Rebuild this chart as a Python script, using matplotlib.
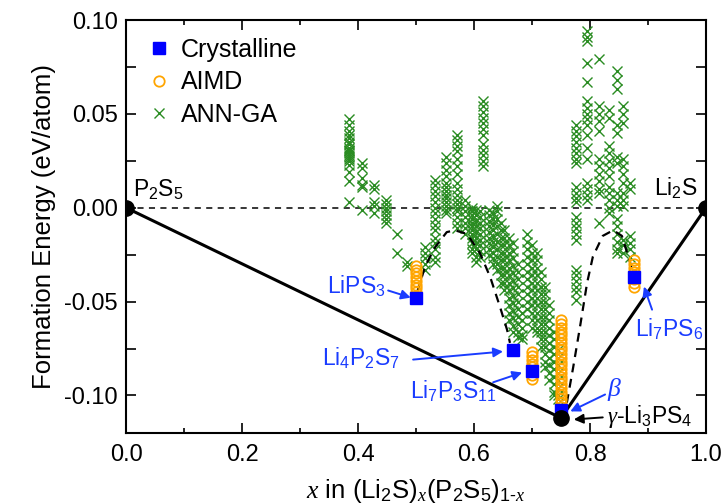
import matplotlib
matplotlib.use("Agg")
import matplotlib.pyplot as plt
from matplotlib.ticker import MultipleLocator, FormatStrFormatter

plt.rcParams['font.family'] = ['Liberation Sans', 'DejaVu Sans']
plt.rcParams['mathtext.fontset'] = 'custom'
plt.rcParams['mathtext.rm'] = 'Liberation Sans'
plt.rcParams['mathtext.it'] = 'Liberation Serif:italic'
plt.rcParams['mathtext.bf'] = 'Liberation Sans:bold'
plt.rcParams['axes.unicode_minus'] = False

# crystalline phases
cryst_x = [0.500, 0.667, 0.700, 0.750, 0.875]
cryst_y = [-0.048, -0.076, -0.087, -0.108, -0.037]

# AIMD structures (composition, energies)
aimd_comp = [0.500, 0.700, 0.750, 0.875]
aimd_energy = [
    [-0.031, -0.033, -0.035, -0.037, -0.039, -0.041, -0.043, -0.045, -0.047],
    [-0.077, -0.079, -0.081, -0.083, -0.085, -0.087, -0.089, -0.091],
    [-0.060, -0.062, -0.064, -0.066, -0.068, -0.070, -0.072, -0.074, -0.076,
     -0.078, -0.080, -0.082, -0.084, -0.086, -0.088, -0.090, -0.092, -0.094,
     -0.096, -0.098, -0.100, -0.102, -0.104, -0.106],
    [-0.028, -0.030, -0.032, -0.034, -0.036, -0.038, -0.040, -0.042],
]

# ANN-GA structures (composition, energies)
ann_comp = [0.385, 0.407, 0.428, 0.448, 0.467, 0.485, 0.516, 0.533, 0.552,
            0.571, 0.585, 0.596, 0.603, 0.615, 0.610, 0.625, 0.632, 0.640,
            0.646, 0.652, 0.660, 0.667, 0.675, 0.682, 0.692, 0.700, 0.708,
            0.715, 0.722, 0.730, 0.738, 0.745, 0.776, 0.795, 0.815, 0.832,
            0.846, 0.857, 0.869]
ann_energy = [
    [0.047, 0.044, 0.041, 0.039, 0.037, 0.035, 0.034, 0.032, 0.031, 0.030,
     0.029, 0.028, 0.027, 0.026, 0.025, 0.023, 0.019, 0.014, 0.003],
    [0.024, 0.021, 0.016, 0.012, 0.011, -0.001],
    [0.012, 0.010, 0.003, 0.001, -0.003],
    [0.004, 0.002, 0.000, -0.002, -0.004, -0.006, -0.008],
    [-0.014, -0.024],
    [-0.029, -0.031],
    [-0.021, -0.024, -0.027, -0.030, -0.033],
    [0.015, 0.012, 0.009, 0.006, 0.003, 0.000, -0.003, -0.006, -0.009,
     -0.012, -0.016, -0.019, -0.022, -0.026, -0.029],
    [0.027, 0.024, 0.020, 0.017, 0.013, 0.011, 0.009, 0.007, 0.005, 0.003,
     0.001, -0.001, -0.003],
    [0.039, 0.036, 0.033, 0.030, 0.026, 0.022, 0.018, 0.013, 0.010, 0.007,
     0.004, 0.002, 0.000, -0.002, -0.005, -0.008, -0.011],
    [0.004, 0.001, -0.002, -0.005, -0.008, -0.011, -0.014],
    [0.000, -0.002, -0.004, -0.006, -0.008, -0.010, -0.012, -0.014, -0.016,
     -0.019, -0.022, -0.024],
    [-0.001, -0.004, -0.007, -0.010, -0.013, -0.016, -0.019, -0.022, -0.026,
     -0.029],
    [0.057, 0.054, 0.051, 0.048, 0.045, 0.042, 0.039, 0.034, 0.031, 0.028,
     0.025, 0.022],
    [-0.002, -0.005, -0.008, -0.011, -0.014, -0.017, -0.020, -0.023, -0.026],
    [-0.001, -0.004, -0.007, -0.010, -0.013, -0.016, -0.019, -0.022, -0.025],
    [-0.003, -0.006, -0.009, -0.012, -0.015, -0.018, -0.021, -0.024, -0.027,
     -0.030],
    [0.001, -0.002, -0.006, -0.010, -0.014, -0.018, -0.022, -0.026, -0.030,
     -0.033],
    [-0.008, -0.012, -0.016, -0.020, -0.024, -0.028, -0.032, -0.036, -0.040],
    [-0.012, -0.016, -0.020, -0.024, -0.028, -0.032, -0.036, -0.040, -0.044],
    [-0.016, -0.020, -0.024, -0.028, -0.032, -0.036, -0.040, -0.044, -0.048,
     -0.052, -0.056, -0.060],
    [-0.019, -0.023, -0.027, -0.031, -0.035, -0.039, -0.043, -0.047, -0.051,
     -0.055, -0.059, -0.063, -0.066],
    [-0.030, -0.034, -0.038, -0.042, -0.046, -0.050, -0.054, -0.058, -0.062,
     -0.066, -0.069],
    [-0.056, -0.060, -0.064, -0.068, -0.070],
    [-0.014, -0.018, -0.022, -0.026, -0.030, -0.034, -0.038, -0.042, -0.046,
     -0.050, -0.054],
    [-0.020, -0.024, -0.028, -0.032, -0.036, -0.040, -0.044, -0.048, -0.052,
     -0.056, -0.060, -0.064],
    [-0.024, -0.028, -0.032, -0.036, -0.040, -0.044, -0.048, -0.052, -0.056,
     -0.060, -0.064, -0.066],
    [-0.034, -0.038, -0.042, -0.046, -0.050, -0.054, -0.058, -0.062, -0.066,
     -0.070, -0.074],
    [-0.042, -0.046, -0.050, -0.054, -0.058, -0.062, -0.066, -0.070, -0.074,
     -0.078, -0.082, -0.085],
    [-0.052, -0.056, -0.060, -0.064, -0.068, -0.072, -0.076, -0.080, -0.084,
     -0.088, -0.092],
    [-0.066, -0.070, -0.074, -0.078, -0.082, -0.086, -0.090, -0.094, -0.098,
     -0.100],
    [-0.076, -0.080, -0.084, -0.088, -0.092, -0.096, -0.100, -0.102],
    [0.044, 0.041, 0.038, 0.035, 0.032, 0.029, 0.026, 0.024, 0.011, 0.008,
     0.005, 0.003, -0.005, -0.008, -0.011, -0.014, -0.017, -0.033, -0.036,
     -0.039, -0.042, -0.045, -0.049],
    [0.094, 0.091, 0.089, 0.077, 0.067, 0.057, 0.053, 0.050, 0.047, 0.044,
     0.039, 0.032, 0.026, 0.013, 0.010, 0.007, 0.004],
    [0.079, 0.054, 0.050, 0.046, 0.041, 0.026, 0.022, 0.018, 0.014, 0.010,
     0.008, -0.008],
    [0.052, 0.048, 0.033, 0.029, 0.025, 0.021, 0.017, 0.011, 0.008, 0.004,
     0.000, -0.003],
    [0.073, 0.068, 0.063, 0.044, 0.040, 0.027, 0.024, 0.008, 0.004, 0.001,
     -0.006, -0.010, -0.014, -0.018, -0.022, -0.024],
    [0.054, 0.050, 0.045, 0.026, 0.022, 0.018, 0.013, 0.008, 0.004, 0.001,
     -0.017, -0.020, -0.024],
    [0.013, 0.010, -0.015, -0.019, -0.022, -0.026],
]

# convex hull and end members
hull_x = [0.0, 0.75, 1.0]
hull_y = [0.0, -0.112, 0.0]

# dashed guide curves
guide1_x = [0.502, 0.516, 0.533, 0.553, 0.567, 0.588, 0.610, 0.628, 0.645, 0.657, 0.662]
guide1_y = [-0.045, -0.031, -0.021, -0.013, -0.012, -0.014, -0.024, -0.037, -0.053, -0.065, -0.072]
guide2_x = [0.760, 0.771, 0.783, 0.795, 0.805, 0.822, 0.840, 0.855, 0.869, 0.873]
guide2_y = [-0.104, -0.085, -0.063, -0.040, -0.026, -0.015, -0.012, -0.015, -0.029, -0.034]

blue_txt = '#1a3cff'

fig = plt.figure(figsize=(7.25, 5.04), dpi=100)
ax = fig.add_axes([0.1738, 0.1409, 0.8, 0.8194])

ax.plot([0, 1], [0, 0], ls=(0, (4, 3.5)), color='black', lw=1.1, zorder=1)
ax.plot(hull_x, hull_y, color='black', lw=2.2, zorder=2)

ann_x = []
ann_y = []
for c, es in zip(ann_comp, ann_energy):
    ann_x += [c] * len(es)
    ann_y += es
ax.plot(ann_x, ann_y, 'x', color='#2a8c22', ms=6.5, mew=1.0, ls='none',
        zorder=3, label='ANN-GA')

ax.plot(guide1_x, guide1_y, ls=(0, (4, 3)), color='black', lw=1.6, zorder=4)
ax.plot(guide2_x, guide2_y, ls=(0, (4, 3)), color='black', lw=1.6, zorder=4)

aimd_x = []
aimd_y = []
for c, es in zip(aimd_comp, aimd_energy):
    aimd_x += [c] * len(es)
    aimd_y += es
ax.plot(aimd_x, aimd_y, 'o', mfc='none', mec='#ffa500', ms=7.5, mew=1.3,
        ls='none', zorder=5, label='AIMD')

ax.plot(cryst_x, cryst_y, 's', color='#0000ff', ms=8, ls='none', zorder=6,
        label='Crystalline')

ax.plot(hull_x, hull_y, 'o', color='black', ms=11, ls='none', zorder=7)

# legend in order Crystalline, AIMD, ANN-GA
h, l = ax.get_legend_handles_labels()
ax.legend(h[::-1], l[::-1], loc='upper left', frameon=False, fontsize=18,
          handletextpad=0.3, handlelength=1.2, borderaxespad=0.3,
          labelspacing=0.35, borderpad=0.4)

# labels
fs = 16.5
ax.text(0.012, 0.0095, 'P$_2$S$_5$', fontsize=fs, ha='left', va='center')
ax.text(0.986, 0.0105, 'Li$_2$S', fontsize=fs, ha='right', va='center')

ax.text(0.447, -0.042, 'LiPS$_3$', fontsize=fs, color=blue_txt, ha='right', va='center')
ax.text(0.472, -0.080, 'Li$_4$P$_2$S$_7$', fontsize=fs, color=blue_txt, ha='right', va='center')
ax.text(0.490, -0.098, 'Li$_7$P$_3$S$_{11}$', fontsize=fs, color=blue_txt, ha='left', va='center')
ax.text(0.843, -0.097, r'$\beta$', fontsize=fs + 2, color=blue_txt, ha='center', va='center')
ax.text(0.829, -0.111, r'$\gamma$-Li$_3$PS$_4$', fontsize=fs, color='black', ha='left', va='center')
ax.text(0.878, -0.065, 'Li$_7$PS$_6$', fontsize=fs, color=blue_txt, ha='left', va='center')

arrows = [
    ((0.452, -0.0441), (0.491, -0.0479), blue_txt),
    ((0.495, -0.0809), (0.650, -0.0766), blue_txt),
    ((0.633, -0.0930), (0.683, -0.0878), blue_txt),
    ((0.826, -0.0995), (0.766, -0.1085), blue_txt),
    ((0.822, -0.1117), (0.772, -0.1128), 'black'),
    ((0.907, -0.0543), (0.893, -0.0420), blue_txt),
]
for tail, tip, col in arrows:
    ax.annotate('', xy=tip, xytext=tail,
                arrowprops=dict(arrowstyle='-|>', color=col, lw=1.4,
                                mutation_scale=14, shrinkA=0, shrinkB=0),
                zorder=8)

ax.set_xlim(0, 1)
ax.set_ylim(-0.12, 0.10)
ax.xaxis.set_major_locator(MultipleLocator(0.2))
ax.xaxis.set_minor_locator(MultipleLocator(0.1))
ax.yaxis.set_major_locator(MultipleLocator(0.05))
ax.yaxis.set_minor_locator(MultipleLocator(0.025))
ax.xaxis.set_major_formatter(FormatStrFormatter('%.1f'))
ax.yaxis.set_major_formatter(FormatStrFormatter('%.2f'))
ax.tick_params(which='both', direction='in', top=True, right=True,
               labelsize=17, width=1.2)
ax.tick_params(axis='x', which='major', length=7.5, pad=8)
ax.tick_params(axis='x', which='minor', length=3.8)
ax.tick_params(axis='y', which='both', length=7.5, pad=6)
for sp in ax.spines.values():
    sp.set_linewidth(1.5)

ax.set_xlabel(r'$x$ in (Li$_2$S)$_x$(P$_2$S$_5$)$_{1\text{-}x}$', fontsize=18.5, labelpad=8)
ax.set_ylabel('Formation Energy (eV/atom)', fontsize=18.5, labelpad=6)

fig.savefig('out.png', dpi=100)
